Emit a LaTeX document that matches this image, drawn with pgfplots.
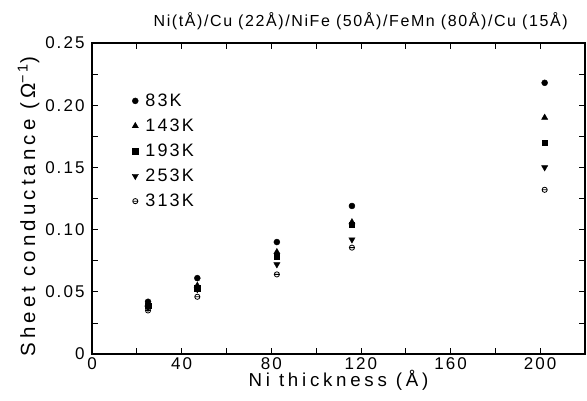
\documentclass[border=0pt]{standalone}
\usepackage{fontspec}
\setmainfont{Liberation Sans}[LetterSpace=12]
\newfontfamily\widefont{Liberation Sans}[LetterSpace=20]
\newfontfamily\titlefont{Liberation Sans}[LetterSpace=10]
\usepackage{pgfplots}
\pgfplotsset{compat=1.18}
\usetikzlibrary{plotmarks}

\pgfdeclareplotmark{ominus}{%
  \pgfpathcircle{\pgfpointorigin}{\pgfplotmarksize}%
  \pgfpathmoveto{\pgfpoint{-\pgfplotmarksize}{0pt}}%
  \pgfpathlineto{\pgfpoint{\pgfplotmarksize}{0pt}}%
  \pgfusepathqstroke}

\begin{document}
\begin{tikzpicture}
\path[use as bounding box] (-92pt,-46pt) rectangle (495pt,354pt);
\begin{axis}[scale only axis,width=493pt,height=311pt,
  xmin=0,xmax=220,ymin=0,ymax=0.25,
  axis line style={line width=1.3pt},
  tick align=inside,tick style={line width=0.8pt,black},
  major tick length=6pt,minor tick length=6pt,
  xtick={0,40,...,200},xticklabels={0,40,80,120,160,200},
  minor xtick={20,60,...,220},
  ytick={0,0.05,...,0.26},yticklabels={0,0.05,0.10,0.15,0.20,0.25},
  minor ytick={0.025,0.075,...,0.24},
  ticklabel style={font=\fontsize{17}{18}\selectfont},
  yticklabel style={xshift=-4pt},
  xlabel={Ni thickness (Å)},
  ylabel={Sheet conductance (Ω\textsuperscript{−1})},
  xlabel style={font=\widefont\fontsize{18.7}{19}\selectfont,yshift=6pt},
  ylabel style={font=\widefont\fontsize{20.5}{21}\selectfont,xshift=-8pt,yshift=-1pt},
  title={\titlefont\fontsize{16}{17}\selectfont Ni(tÅ)/Cu (22Å)/NiFe (50Å)/FeMn (80Å)/Cu (15Å)},
  title style={at={(0.545,1)},anchor=south,yshift=4pt},
  legend style={draw=none,fill=none,at={(0.075,0.85)},anchor=north west,
    font=\fontsize{18}{19}\selectfont,row sep=7pt,
    /tikz/every odd column/.append style={column sep=5pt}},
  legend cell align=left,
  every axis plot/.append style={only marks,black}]
\addplot[mark=*,mark size=3pt] coordinates {(25,0.042)(47,0.061)(82.5,0.090)(116,0.119)(202,0.218)};
\addlegendentry{83K}
\addplot[mark=triangle*,mark size=3.6pt] coordinates {(25,0.040)(47,0.055)(82.5,0.082)(116,0.106)(202,0.190)};
\addlegendentry{143K}
\addplot[mark=square*,mark size=2.7pt] coordinates {(25,0.039)(47,0.053)(82.5,0.078)(116,0.104)(202,0.170)};
\addlegendentry{193K}
\addplot[mark=triangle*,mark options={rotate=180},mark size=3.6pt] coordinates {(25,0.037)(47,0.052)(82.5,0.072)(116,0.092)(202,0.150)};
\addlegendentry{253K}
\addplot[mark=ominus,mark size=2.6pt,mark options={line width=0.8pt}] coordinates {(25,0.035)(47,0.046)(82.5,0.064)(116,0.0855)(202,0.132)};
\addlegendentry{313K}
\end{axis}
\end{tikzpicture}
\end{document}
